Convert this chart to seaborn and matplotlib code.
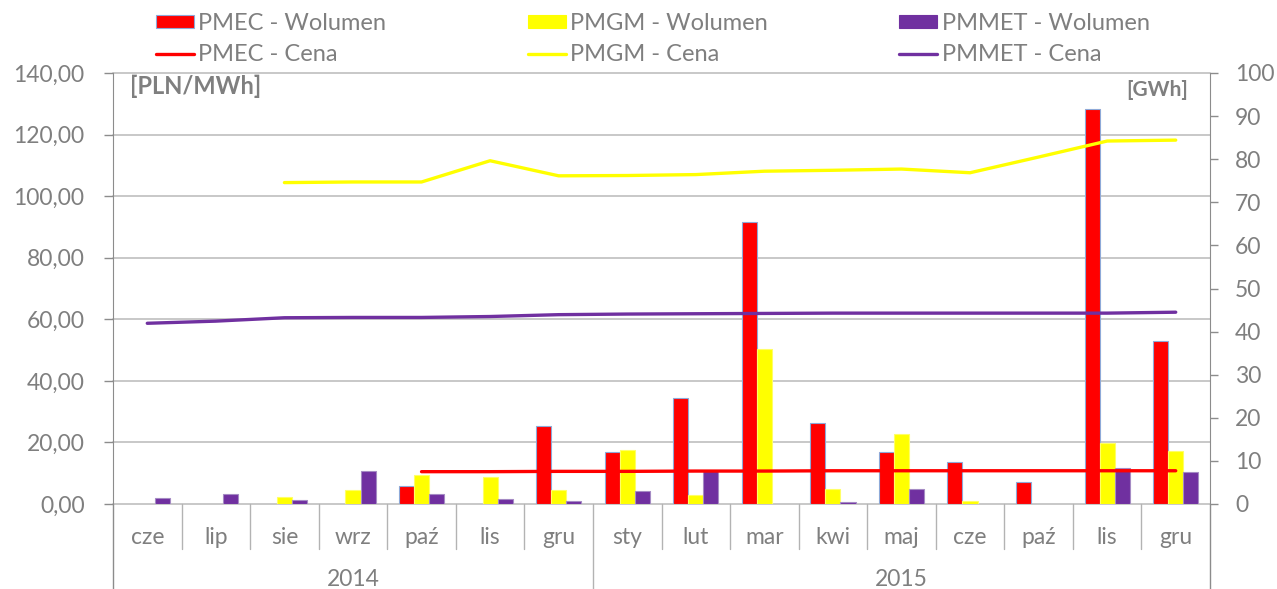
import numpy as np
import pandas as pd
import matplotlib
matplotlib.use("Agg")
import matplotlib.pyplot as plt
import seaborn as sns
from matplotlib.patches import Patch
from matplotlib.lines import Line2D
from matplotlib.ticker import FuncFormatter
from matplotlib.transforms import blended_transform_factory

nan = np.nan

months = ["cze", "lip", "sie", "wrz", "paź", "lis", "gru",
          "sty", "lut", "mar", "kwi", "maj", "cze", "paź", "lis", "gru"]
years = ["2014", "2015"]
year_span = [(0, 6), (7, 15)]

# volumes [GWh] (right axis)
pmec_vol = [nan, nan, nan, nan, 4.1, nan, 18.1, 12.0, 24.6, 65.5, 18.7, 12.0, 9.7, 5.0, 91.6, 37.9]
pmgm_vol = [nan, nan, 1.6, 3.3, 6.7, 6.3, 3.2, 12.5, 2.0, 35.9, 3.5, 16.2, 0.7, nan, 14.2, 12.4]
pmmet_vol = [1.5, 2.25, 0.9, 7.7, 2.25, 1.1, 0.7, 3.0, 7.7, nan, 0.5, 3.4, nan, nan, 8.3, 7.4]

# prices [PLN/MWh] (left axis)
pmec_price = [nan, nan, nan, nan, 10.5, 10.5, 10.6, 10.6, 10.7, 10.7, 10.8, 10.8, 10.8, 10.8, 10.8, 10.8]
pmgm_price = [nan, nan, 104.4, 104.6, 104.6, 111.5, 106.6, 106.7, 107.0, 108.1, 108.4, 108.8, 107.6, 112.7, 117.9, 118.2]
pmmet_price = [58.7, 59.4, 60.5, 60.6, 60.6, 60.9, 61.5, 61.7, 61.8, 61.9, 62.0, 62.0, 62.0, 62.0, 62.0, 62.3]

names = ["PMEC", "PMGM", "PMMET"]
colors = ["#FF0000", "#FFFF00", "#7030A0"]
grey = "#7f7f7f"
axis_grey = "#8c8c8c"

n = len(months)
vol = pd.DataFrame({
    "idx": np.tile(np.arange(n), 3),
    "series": np.repeat([s + " - Wolumen" for s in names], n),
    "value": np.concatenate([pmec_vol, pmgm_vol, pmmet_vol]),
})
price = pd.DataFrame({
    "idx": np.tile(np.arange(n), 3),
    "series": np.repeat([s + " - Cena" for s in names], n),
    "value": np.concatenate([pmec_price, pmgm_price, pmmet_price]),
})

sns.set_style("white")
plt.rcParams["font.family"] = ["Lato", "DejaVu Sans"]

W, H = 1277, 589
fs = 16.5
fig = plt.figure(figsize=(W / 100, H / 100), dpi=100)
ax = fig.add_axes([113 / W, 1 - 504 / H, (1210 - 113) / W, (504 - 73) / H])
ax2 = ax.twinx()

# gridlines follow the left axis, drawn behind the bars
for v in range(0, 141, 20):
    ax2.axhline(v * 100 / 140, color="#c4c4c4", lw=1.3, zorder=0, clip_on=False)

sns.barplot(data=vol, x="idx", y="value", hue="series", palette=colors,
            width=0.66, gap=0, saturation=1, legend=False, ax=ax2)
edge = ["#8ea9d8", "#ffff66", "#a58bc4"]
for cont, ec in zip(ax2.containers, edge):
    for p in cont:
        p.set_edgecolor(ec)
        p.set_linewidth(0.8)

sns.lineplot(data=price, x="idx", y="value", hue="series", palette=colors,
             linewidth=2.4, legend=False, ax=ax)

ax.set_zorder(ax2.get_zorder() + 1)
ax.patch.set_visible(False)

ax.set_xlim(-0.5, n - 0.5)
ax.set_ylim(0, 140)
ax2.set_ylim(0, 100)
ax.set_yticks(range(0, 141, 20))
ax2.set_yticks(range(0, 101, 10))
ax.yaxis.set_major_formatter(FuncFormatter(lambda v, p: f"{v:.2f}".replace(".", ",")))
ax.set_xticks([])
ax.set_xlabel("")
ax.set_ylabel("")
ax2.set_ylabel("")
ax2.set_xlabel("")

for a in (ax, ax2):
    for s in a.spines.values():
        s.set_visible(False)
ax.spines["left"].set_visible(True)
ax.spines["left"].set_color(axis_grey)
ax2.spines["right"].set_visible(True)
ax2.spines["right"].set_color(axis_grey)

ax.tick_params(axis="y", direction="out", length=6.5, width=1, color=axis_grey,
               labelcolor=grey, labelsize=fs, pad=14, left=True)
ax2.tick_params(axis="y", direction="out", length=6, width=1, color=axis_grey,
                labelcolor=grey, labelsize=fs, pad=12, right=True)

# two-level category axis
trans = blended_transform_factory(ax.transData, ax.transAxes)
low = -85 / 431
mid = -45 / 431
for x in (-0.5, n - 0.5):
    ax.plot([x, x], [0, low], transform=trans, clip_on=False, color=axis_grey, lw=1)
for i in range(n - 1):
    b = i + 0.5
    top = low if b == year_span[0][1] + 0.5 else mid
    ax.plot([b, b], [0, top], transform=trans, clip_on=False, color="#b3b3b3", lw=1)
for i, m in enumerate(months):
    ax.text(i, -33 / 431, m, transform=trans, ha="center", va="center",
            fontsize=fs, color=grey)
for y, (a0, a1) in zip(years, year_span):
    ax.text((a0 + a1) / 2, -76 / 431, y, transform=trans, ha="center", va="center",
            fontsize=fs, color=grey)

fig.text(130 / W, 1 - 86 / H, "[PLN/MWh]", fontsize=17, fontweight="bold",
         color=grey, ha="left", va="center")
fig.text(1188 / W, 1 - 90 / H, "[GWh]", fontsize=15, fontweight="bold",
         color=grey, ha="right", va="center")

# legend: one column per market
for name, c, x0, ec in zip(names, colors, (156, 528, 899), edge):
    handles = [Patch(facecolor=c, edgecolor=ec if name == "PMEC" else c, lw=0.8),
               Line2D([], [], color=c, lw=2.4)]
    fig.legend(handles, [name + " - Wolumen", name + " - Cena"],
               loc="upper left", bbox_to_anchor=(x0 / W, 1 - 13 / H),
               frameon=False, fontsize=17, labelcolor=grey,
               handlelength=1.6, handleheight=0.5, handletextpad=0.2,
               labelspacing=0.43, borderpad=0, borderaxespad=0)

fig.savefig("out.png", dpi=100)
